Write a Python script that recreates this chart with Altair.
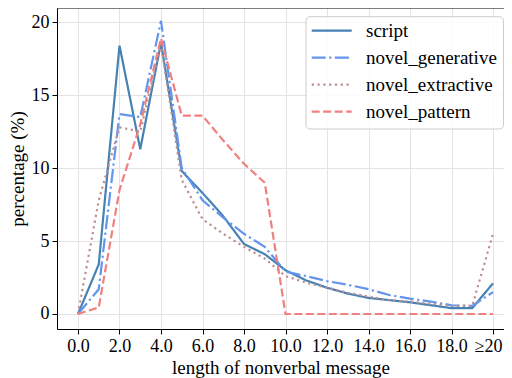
import altair as alt
import pandas as pd

lengths = list(range(0, 21))
script = [0, 3.4, 18.4, 11.3, 18.6, 9.8, 8.3, 6.7, 4.8, 4.1, 3.0, 2.3, 1.8, 1.4, 1.1, 0.95, 0.8, 0.6, 0.4, 0.4, 2.1]
novel_generative = [0, 1.7, 13.7, 13.5, 20.1, 10.0, 7.8, 6.6, 5.5, 4.6, 2.9, 2.6, 2.25, 2.0, 1.7, 1.3, 1.05, 0.85, 0.6, 0.55, 1.5]
novel_extractive = [0, 7.8, 12.8, 12.5, 18.5, 9.2, 6.5, 5.5, 4.6, 3.8, 2.6, 2.15, 1.8, 1.45, 1.2, 0.95, 0.85, 0.7, 0.55, 0.55, 5.5]
novel_pattern = [0, 0.45, 8.5, 13.0, 18.9, 13.6, 13.6, 11.9, 10.3, 9.0, 0, 0, 0, 0, 0, 0, 0, 0, 0, 0, 0]

series_names = ["script", "novel_generative", "novel_extractive", "novel_pattern"]
series_vals = [script, novel_generative, novel_extractive, novel_pattern]
colors = ["#4682b4", "#6495ed", "#bc8f8f", "#f08080"]
dashes = [[1, 0], [14, 3.5, 2.2, 3.5], [2.2, 3.6], [8, 3.5]]
x_ticks = list(range(0, 21, 2))
y_ticks = [0, 5, 10, 15, 20]

rows = []
for name, vals in zip(series_names, series_vals):
    for x, v in zip(lengths, vals):
        rows.append({"length": x, "pct": v, "series": name, "order": series_names.index(name)})
df = pd.DataFrame(rows)
legend_df = pd.DataFrame({"series": series_names})

W, H = 447, 321
FONT = "Liberation Serif"

color_enc = alt.Color("series:N", scale=alt.Scale(domain=series_names, range=colors), legend=None)
dash_enc = alt.StrokeDash("series:N", scale=alt.Scale(domain=series_names, range=dashes), legend=None)

lines = alt.Chart(df).mark_line(strokeWidth=2.2, clip=True).encode(
    x=alt.X("length:Q",
            scale=alt.Scale(domain=[-1.012, 20.53], nice=False, zero=False),
            axis=alt.Axis(values=x_ticks, title="length of nonverbal message",
                          labelExpr="datum.value == 20 ? '≥20' : format(datum.value, '.1f')",
                          labelOffset={"condition": {"test": "datum.value == 20", "value": -5}, "value": 0})),
    y=alt.Y("pct:Q",
            scale=alt.Scale(domain=[-1.03, 20.98], nice=False, zero=False),
            axis=alt.Axis(values=y_ticks, title="percentage (%)", format="d")),
    color=color_enc,
    strokeDash=dash_enc,
    order=alt.Order("order:Q"),
)

top_rule = alt.Chart(pd.DataFrame({"a": [0]})).mark_rule(color="black", strokeWidth=1).encode(
    x=alt.value(0), x2=alt.value(W), y=alt.value(0)
)

# legend box, handles and labels
legend_y = alt.Y("series:N", sort=series_names, axis=None,
                 scale=alt.Scale(type="point", domain=series_names, range=[22.7, 103.7], padding=0))

legend_box = alt.Chart(pd.DataFrame({"a": [0]})).mark_rect(
    fill="white", fillOpacity=0.85, stroke="#cccccc", strokeWidth=1, cornerRadius=4
).encode(x=alt.value(249), x2=alt.value(446.5), y=alt.value(8.7), y2=alt.value(121))

legend_lines = alt.Chart(legend_df).mark_rule(strokeWidth=2.2).encode(
    x=alt.value(254.7), x2=alt.value(294.7), y=legend_y, color=color_enc, strokeDash=dash_enc
)

legend_text = alt.Chart(legend_df).mark_text(
    align="left", baseline="middle", font=FONT, fontSize=19, color="black"
).encode(x=alt.value(309), y=legend_y, text="series:N")

chart = alt.layer(lines, top_rule, legend_box, legend_lines, legend_text).resolve_scale(
    y="independent"
).properties(
    width=W, height=H,
    autosize=alt.AutoSizeParams(type="none"),
    padding={"left": 49, "top": 0, "right": 0, "bottom": 49},
).configure(font=FONT).configure_view(stroke=None).configure_axis(
    labelFont=FONT, titleFont=FONT, labelFontSize=18, titleFontSize=19,
    titleFontWeight="normal", labelColor="black", titleColor="black",
    tickColor="black", domainColor="black", domainWidth=1, tickSize=5, tickWidth=1,
    labelPadding=3, gridColor="#e3e3e3", gridWidth=1,
).configure_axisX(titlePadding=3, labelAngle=0).configure_axisY(titlePadding=4)

chart.save("out.html", embed_options={"renderer": "svg", "actions": False})
